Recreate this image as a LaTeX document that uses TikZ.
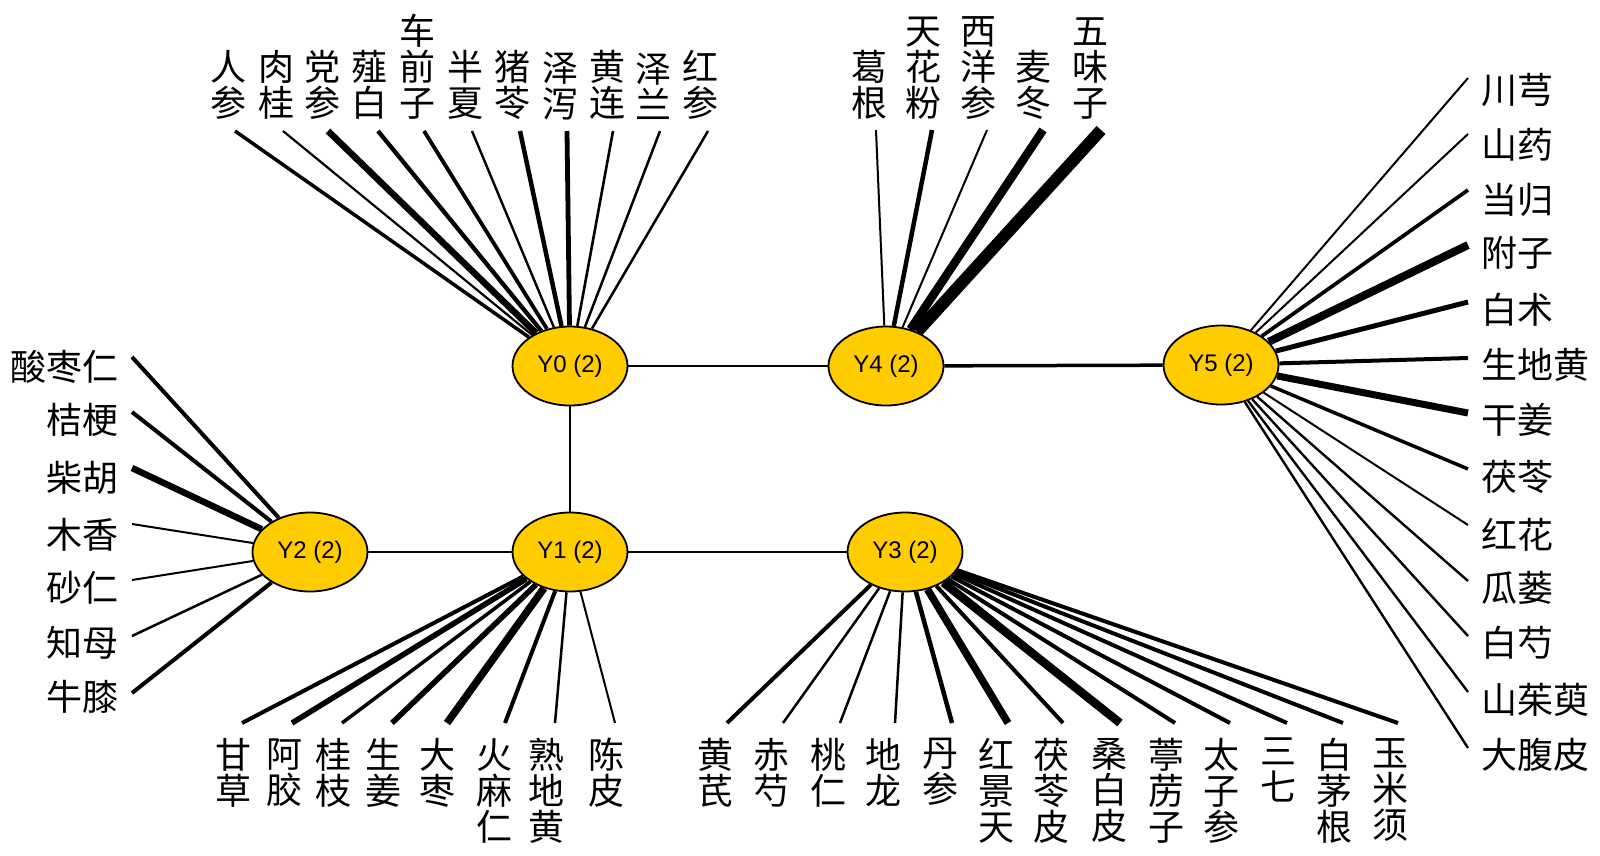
\documentclass[tikz,border=0pt]{standalone}
\usepackage{fontspec}
\setmainfont{Liberation Sans}
\newfontfamily\cjk{Noto Sans CJK SC}
\usetikzlibrary{shapes.geometric}
\definecolor{hubfill}{RGB}{255,204,0}
\pgfdeclarelayer{bottom}
\pgfdeclarelayer{background}
\pgfsetlayers{bottom,background,main}
\begin{document}
\begin{tikzpicture}[x=1pt,y=-1pt,
 hub/.style={ellipse,draw,line width=1.8pt,fill=hubfill,minimum width=115pt,minimum height=79pt,inner sep=0pt,font=\fontsize{24}{24}\selectfont},
 herb/.style={font=\cjk\fontsize{36}{36}\selectfont,inner sep=0pt,align=center},
 link/.style={line width=2pt}
]
\begin{pgfonlayer}{bottom}
\fill[white] (0,0) rectangle (1600,855);
\end{pgfonlayer}
\useasboundingbox (0,0) rectangle (1600,855);
\node[hub] (Y0) at (570,366) {Y0 (2)};
\node[hub] (Y4) at (886,366) {Y4 (2)};
\node[hub] (Y5) at (1221,365) {Y5 (2)};
\node[hub] (Y2) at (310,552) {Y2 (2)};
\node[hub] (Y1) at (570,552) {Y1 (2)};
\node[hub] (Y3) at (905,552) {Y3 (2)};
\begin{pgfonlayer}{background}
\draw[link] (Y0) -- (Y4);
\draw[line width=3.5pt] (Y4) -- (Y5);
\draw[link] (Y0) -- (Y1);
\draw[link] (Y2) -- (Y1);
\draw[link] (Y1) -- (Y3);
\end{pgfonlayer}
% Y0 top
\foreach \lx/\ex/\w/\t [count=\i] in {228/235/3.5/{人\\参},276/283/2.2/{肉\\桂},322/328/6.5/{党\\参},369/378/4.3/{薤\\白},417/424/3.8/{车\\前\\子},465/472/2.4/{半\\夏},512/520/4.5/{猪\\苓},560/567/4.8/{泽\\泻},607/613/2.6/{黄\\连},653/660/2.5/{泽\\兰},700/708/2.5/{红\\参}}{
 \node[herb,anchor=south] (a\i) at (\lx,120) {\t};
 \coordinate (ea\i) at (\ex,131);
 \begin{pgfonlayer}{background}\draw[line width=\w pt] (ea\i) -- (Y0);\end{pgfonlayer}
}
% Y4 top
\foreach \lx/\ex/\w/\t [count=\i] in {869/876/2/{葛\\根},923/932/4.5/{天\\花\\粉},978/987/2/{西\\洋\\参},1033/1043/8.5/{麦\\冬},1090/1101/12/{五\\味\\子}}{
 \node[herb,anchor=south] (b\i) at (\lx,120) {\t};
 \coordinate (eb\i) at (\ex,130);
 \begin{pgfonlayer}{background}\draw[line width=\w pt] (eb\i) -- (Y4);\end{pgfonlayer}
}
% Y5 right
\foreach \ly/\ey/\w/\t [count=\i] in {90/78/2/川芎,145/134/2/山药,200/190/3.7/当归,253/245/8/附子,310/302/5/白术,365/358/4/生地黄,420/413/7/干姜,477/469/3.5/茯苓,535/525/2/红花,588/581/2.4/瓜蒌,643/636/2.4/白芍,700/692/2.4/山茱萸,755/748/2.4/大腹皮}{
 \node[herb,anchor=west] (c\i) at (1481,\ly) {\t};
 \coordinate (ec\i) at (1468,\ey);
 \begin{pgfonlayer}{background}\draw[line width=\w pt] (ec\i) -- (Y5);\end{pgfonlayer}
}
% Y2 left
\foreach \ly/\ey/\w/\t [count=\i] in {367/357/4/酸枣仁,420/412/4/桔梗,478/468/6.5/柴胡,535/524/2/木香,588/580/2/砂仁,643/636/2.5/知母,697/693/4/牛膝}{
 \node[herb,anchor=east] (d\i) at (119,\ly) {\t};
 \coordinate (ed\i) at (132,\ey);
 \begin{pgfonlayer}{background}\draw[line width=\w pt] (ed\i) -- (Y2);\end{pgfonlayer}
}
% Y1 bottom
\foreach \lx/\ex/\w/\t [count=\i] in {233/242/4/{甘\\草},284/292/5.5/{阿\\胶},333/342/3.5/{桂\\枝},383/392/5.5/{生\\姜},437/447/7.5/{大\\枣},494/505/4/{火\\麻\\仁},546/555/2.5/{熟\\地\\黄},606/615/2/{陈\\皮}}{
 \node[herb,anchor=north] (f\i) at (\lx,738) {\t};
 \coordinate (ef\i) at (\ex,723);
 \begin{pgfonlayer}{background}\draw[line width=\w pt] (ef\i) -- (Y1);\end{pgfonlayer}
}
% Y3 bottom
\foreach \lx/\ex/\w/\t [count=\i] in {715/727/4/{黄\\芪},771/783/2.5/{赤\\芍},828/840/2.5/{桃\\仁},883/895/2.5/{地\\龙},940/952/4.5/{丹\\参},996/1008/7.5/{红\\景\\天},1051/1063/4/{茯\\苓\\皮},1109/1120/8.5/{桑\\白\\皮},1166/1175/4/{葶\\苈\\子},1221/1230/4/{太\\子\\参},1278/1287/4/{三\\七},1334/1343/4/{白\\茅\\根},1390/1398/4/{玉\\米\\须}}{
 \node[herb,anchor=north] (g\i) at (\lx,738) {\t};
 \coordinate (eg\i) at (\ex,723);
 \begin{pgfonlayer}{background}\draw[line width=\w pt] (eg\i) -- (Y3);\end{pgfonlayer}
}
\end{tikzpicture}
\end{document}
